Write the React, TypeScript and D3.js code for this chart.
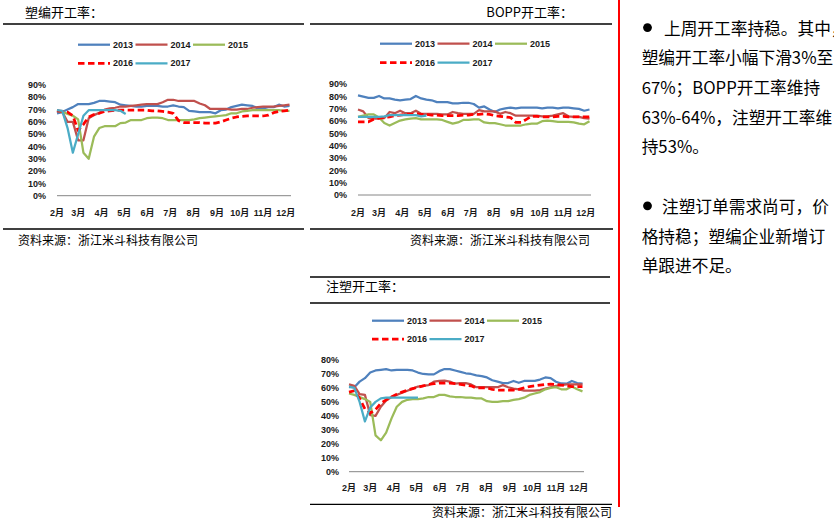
import React from 'react';
import * as d3 from 'd3';

// ---------- data ----------
const yearNames = ['2013', '2014', '2015', '2016', '2017'];
const monthLabels = ['2月', '3月', '4月', '5月', '6月', '7月', '8月', '9月', '10月', '11月', '12月'];
const pctTicks90 = [0, 10, 20, 30, 40, 50, 60, 70, 80, 90];
const pctTicks80 = [0, 10, 20, 30, 40, 50, 60, 70, 80];

// 塑编开工率 (weekly, %)
const sb2013 = [67, 68, 70, 72, 74.5, 74.5, 74.5, 75.5, 77, 77, 76.5, 76, 74, 73.5, 73, 72.5, 72.5, 73, 73, 73, 72.5, 72.5, 73.5, 72.5, 72, 69, 68.5, 68, 68, 68, 67, 69.5, 70, 72, 73, 74, 73.5, 73, 71, 71, 72, 72, 74, 72.5, 73];
const sb2014 = [69.5, 68, 60, 60, 45, 45, 63, 65.5, 67.5, 70, 71, 71.5, 72.5, 72.5, 73, 73.5, 74, 74.5, 74.5, 74.5, 76, 78, 78, 77, 77, 77, 77, 75, 73.5, 70.5, 70.5, 70.5, 70.5, 70, 70, 70.5, 70.5, 71.5, 72, 72.5, 72.5, 72.5, 73, 73.5, 74];
const sb2015 = [69, 68, 66.5, 65, 62, 35, 30, 48, 55, 56.5, 56.5, 56.5, 59, 59.5, 61.5, 61.5, 61.5, 63, 63.5, 63.5, 63, 61.5, 61.5, 61.5, 61.5, 61.5, 62, 63, 63.5, 64, 64.5, 65, 65.5, 67, 67, 68.5, 69, 69.5, 69.5, 69.5, 69.5, 69.5, 69.5, 69, 69];
const sb2016 = [69, 68.5, 68, 65, 53, 58, 64, 66, 67, 68.5, 69, 69.5, 69.5, 69.5, 69.5, 69.5, 69.5, 69.5, 69, 69, 68.5, 68, 67, 61, 59.5, 59.5, 59.5, 59.5, 59, 59, 59, 60, 61.5, 63, 64, 64.5, 64.8, 64.8, 64.8, 64.8, 65.5, 67.5, 68.5, 69, 69.5];
const sb2017 = [69.5, 69, 55, 35, 50, 65, 69.5, 69.5, 69.5, 69.5, 69.5, 69.5, 69, 66.5];

// BOPP开工率
const bo2013 = [81, 80, 79, 79, 80.5, 78.5, 78.5, 77.5, 77, 77.5, 78, 80.5, 78.5, 77.5, 77, 75.5, 75.5, 75.5, 74.5, 74.5, 75, 75, 74, 71, 72, 69.5, 67.5, 69.5, 70.5, 71, 70.5, 71, 71, 71, 71, 70.5, 71, 71, 70.5, 71, 71, 70.5, 70, 68.5, 69.5];
const bo2014 = [69.5, 68, 62.5, 62, 62, 62.5, 67.5, 66.5, 68.5, 66.5, 66.5, 68.5, 66, 66, 66, 66, 65.5, 65.5, 67.5, 66.5, 66, 66, 66, 69, 68, 68, 68, 66, 67.5, 66.5, 64.5, 64.5, 64.5, 64.5, 64.5, 64, 64, 64.5, 65.5, 66.5, 64, 63.5, 63.5, 62.5, 62];
const bo2015 = [63.5, 64.5, 65.5, 65.5, 63, 58.5, 56.5, 58.5, 60.5, 61.5, 62, 62.5, 61.5, 61.5, 61.5, 61.5, 61, 59.5, 58, 59, 61, 61, 61.5, 61.5, 59, 58.5, 58.5, 57.5, 56.5, 56.5, 56.5, 56.5, 57.5, 58, 58, 60, 60.5, 60, 59.5, 59.5, 59.5, 59, 58, 57.5, 60];
const bo2016 = [59.5, 59.5, 59.5, 61.5, 62.5, 63, 63.5, 64.5, 65, 65.5, 65.5, 66, 65.5, 65.5, 65, 65, 64.5, 64.5, 64.5, 64.5, 65, 65, 65.5, 65.5, 66, 65.5, 64.5, 64, 63.5, 63, 59, 59, 61.5, 64, 64, 63.5, 63.5, 63.5, 64, 64, 63.5, 63.5, 63.5, 63.5, 63.5];
const bo2017 = [63.5, 63.5, 63.5, 63.5, 63.5, 64, 65, 65, 65, 65, 65, 65, 64, 64.5];

// 注塑开工率
const zs2013 = [60.5, 60.5, 64.5, 67, 71, 72.5, 73, 73.5, 72.5, 73, 73, 73, 72.5, 71, 70, 69.7, 69.7, 72, 73.5, 73.5, 72.5, 71.5, 70.5, 70, 69, 68.5, 67.5, 65.5, 64.5, 63.5, 63.5, 65, 63.7, 65, 65, 65, 66, 67.5, 67, 64.4, 63.2, 63, 65, 63.5, 63];
const zs2014 = [62.5, 61.5, 55.5, 55, 40.5, 40, 46.5, 51, 53.5, 55, 56.5, 58, 59.5, 61, 61.5, 62, 64.5, 65, 65.2, 64.5, 63, 63.5, 63.5, 62.5, 60.5, 60.5, 60.5, 60.5, 60.5, 62, 60.5, 59.5, 59, 58, 58, 58, 58.5, 59.5, 60.5, 61.5, 62, 62.5, 62.5, 62.5, 62.5];
const zs2015 = [56, 55, 53.5, 52, 50, 26, 22.5, 28, 38, 46.5, 50, 51.5, 52, 52, 52.5, 53.5, 53.5, 55, 55, 54, 53.5, 53.5, 53, 53, 52.5, 52.5, 50.5, 50, 50, 50.5, 50.5, 51.5, 52, 53, 55, 56, 57, 59, 60, 60.5, 59, 59, 61, 59, 57.5];
const zs2016 = [57, 58, 52.5, 45, 42, 44.5, 49, 51.5, 53.5, 55.5, 57, 58.5, 59.5, 60.5, 61.5, 62.5, 63, 63.5, 63.5, 63.5, 63, 62.5, 62, 61.5, 60, 60, 60, 59, 58.5, 58.5, 58.5, 58.5, 59, 60, 61, 61.5, 62, 62.5, 62.8, 62.5, 62, 61.5, 61, 61, 61];
const zs2017 = [61, 60, 50, 36, 46, 50, 52.5, 53, 53, 53, 53, 53, 53, 53];

const titleSB = '塑编开工率：';
const titleBO = 'BOPP开工率：';
const titleZS = '注塑开工率：';
const sourceText = '资料来源：浙江米斗科技有限公司';

const para1 = ['上周开工率持稳。其中，', '塑编开工率小幅下滑3%至', '67%；BOPP开工率维持', '63%-64%，注塑开工率维', '持53%。'];
const para2 = ['注塑订单需求尚可，价', '格持稳；塑编企业新增订', '单跟进不足。'];

// ---------- styles ----------
const yearColors = ['#4F81BD', '#C0504D', '#9BBB59', '#FF0000', '#4BACC6'];
const latinFont = "'Liberation Sans', Arial, 'Noto Sans CJK SC', sans-serif";
const cjkFont = "'Noto Sans CJK SC', sans-serif";

const axisStart = new Date(2017, 1, 1);
const axisEnd = new Date(2017, 11, 8);
const weekDates = d3.range(45).map((i) => d3.timeDay.offset(axisStart, 7 * i));
const monthDates = d3.timeMonth.range(axisStart, new Date(2017, 11, 2));

type PanelProps = {
  data: number[][];
  x0: number;
  x1: number;
  y0: number;
  yTopPx: number;
  ticks: number[];
  labelRight: number;
  monthY: number;
  legendX: number;
  legendY: [number, number];
};

function Panel({ data, x0, x1, y0, yTopPx, ticks, labelRight, monthY, legendX, legendY }: PanelProps) {
  const x = d3.scaleTime().domain([axisStart, axisEnd]).range([x0, x1]);
  const maxT = ticks[ticks.length - 1];
  const y = d3.scaleLinear().domain([0, maxT]).range([y0, yTopPx]);
  const line = d3
    .line<number>()
    .x((_, i) => x(weekDates[i]))
    .y((d) => y(d));
  const step = 57.5;
  const legendItems = yearNames.map((n, k) => ({
    name: n,
    k,
    lx: legendX + (k < 3 ? k : k - 3) * step,
    ly: k < 3 ? legendY[0] : legendY[1],
  }));
  return (
    <g>
      {ticks.map((t) => (
        <text key={t} x={labelRight} y={y(t)} dy="0.35em" textAnchor="end" fontSize={9} fontWeight="bold" fontFamily={latinFont} fill="#1a1a1a">
          {t}%
        </text>
      ))}
      <line x1={x0} x2={x1} y1={y0} y2={y0} stroke="#868686" strokeWidth={1} />
      {monthDates.map((d, i) => (
        <text key={i} x={x(d)} y={monthY} dy="0.35em" textAnchor="middle" fontSize={9} fontWeight="bold" fontFamily={latinFont} fill="#1a1a1a">
          {monthLabels[i]}
        </text>
      ))}
      {data.map((vals, k) => (
        <path
          key={k}
          d={line(vals) || ''}
          fill="none"
          stroke={yearColors[k]}
          strokeWidth={k === 3 ? 2.75 : 2.25}
          strokeDasharray={k === 3 ? '6.5,3.5' : undefined}
          strokeLinejoin="round"
        />
      ))}
      {legendItems.map((it) => (
        <g key={it.name}>
          <line
            x1={it.lx}
            x2={it.lx + 32}
            y1={it.ly}
            y2={it.ly}
            stroke={yearColors[it.k]}
            strokeWidth={it.k === 3 ? 2.75 : 2.25}
            strokeDasharray={it.k === 3 ? '6.5,3.5' : undefined}
          />
          <text x={it.lx + 35} y={it.ly} dy="0.35em" fontSize={9} fontWeight="bold" fontFamily={latinFont} fill="#1a1a1a">
            {it.name}
          </text>
        </g>
      ))}
    </g>
  );
}

export default function App() {
  React.useEffect(() => {
    document.body.style.margin = '0';
  }, []);
  const rule = (x1: number, x2: number, yv: number, key: string) => (
    <line key={key} x1={x1} x2={x2} y1={yv} y2={yv} stroke="#000" strokeWidth={1.3} />
  );
  const lineH = 29.7;
  const textBase = 34.6;
  return (
    <svg width={834} height={524} style={{ position: 'absolute', left: 0, top: 0, background: '#fff' }}>
      <rect width={834} height={524} fill="#fff" />
      {/* chart 1 */}
      <text x={25} y={17} fontSize={13} fontFamily={cjkFont} fill="#000">{titleSB}</text>
      {rule(3, 304, 24, 'a')}
      {rule(3, 304, 229, 'b')}
      <Panel data={[sb2013, sb2014, sb2015, sb2016, sb2017]} x0={57} x1={291} y0={195.7} yTopPx={85} ticks={pctTicks90} labelRight={46} monthY={213} legendX={78} legendY={[44.7, 63.3]} />
      <text x={18} y={245} fontSize={12} fontFamily={cjkFont} fill="#000">{sourceText}</text>

      {/* chart 2 */}
      <text x={573} y={17} textAnchor="end" fontSize={13} fontFamily={cjkFont} fill="#000">{titleBO}</text>
      {rule(310, 612, 24, 'c')}
      {rule(310, 613, 229, 'd')}
      <Panel data={[bo2013, bo2014, bo2015, bo2016, bo2017]} x0={358} x1={591} y0={195} yTopPx={84.3} ticks={pctTicks90} labelRight={347} monthY={212.5} legendX={380} legendY={[43.7, 62.7]} />
      <text x={590} y={245} textAnchor="end" fontSize={12} fontFamily={cjkFont} fill="#000">{sourceText}</text>

      {/* chart 3 */}
      {rule(310, 610, 277, 'e')}
      <text x={326} y={291} fontSize={13} fontFamily={cjkFont} fill="#000">{titleZS}</text>
      {rule(310, 610, 303, 'f')}
      {rule(310, 612, 504.3, 'g')}
      <Panel data={[zs2013, zs2014, zs2015, zs2016, zs2017]} x0={349} x1={584} y0={471.7} yTopPx={360} ticks={pctTicks80} labelRight={339} monthY={488.3} legendX={372} legendY={[320.7, 339]} />
      <text x={612} y={517} textAnchor="end" fontSize={12} fontFamily={cjkFont} fill="#000">{sourceText}</text>

      {/* divider */}
      <line x1={619} x2={619} y1={0} y2={507} stroke="#FF0000" strokeWidth={2} />

      {/* commentary */}
      <circle cx={647.5} cy={textBase - 7} r={4.4} fill="#000" />
      {para1.map((s, i) => (
        <text key={'p1' + i} x={i === 0 ? 664 : 641.7} y={textBase + lineH * i} fontSize={16.7} fontFamily={cjkFont} fill="#000">
          {s}
        </text>
      ))}
      <circle cx={647.5} cy={textBase + lineH * 6 - 7} r={4.4} fill="#000" />
      {para2.map((s, i) => (
        <text key={'p2' + i} x={i === 0 ? 662 : 641.7} y={textBase + lineH * (6 + i)} fontSize={16.7} fontFamily={cjkFont} fill="#000">
          {s}
        </text>
      ))}
    </svg>
  );
}
